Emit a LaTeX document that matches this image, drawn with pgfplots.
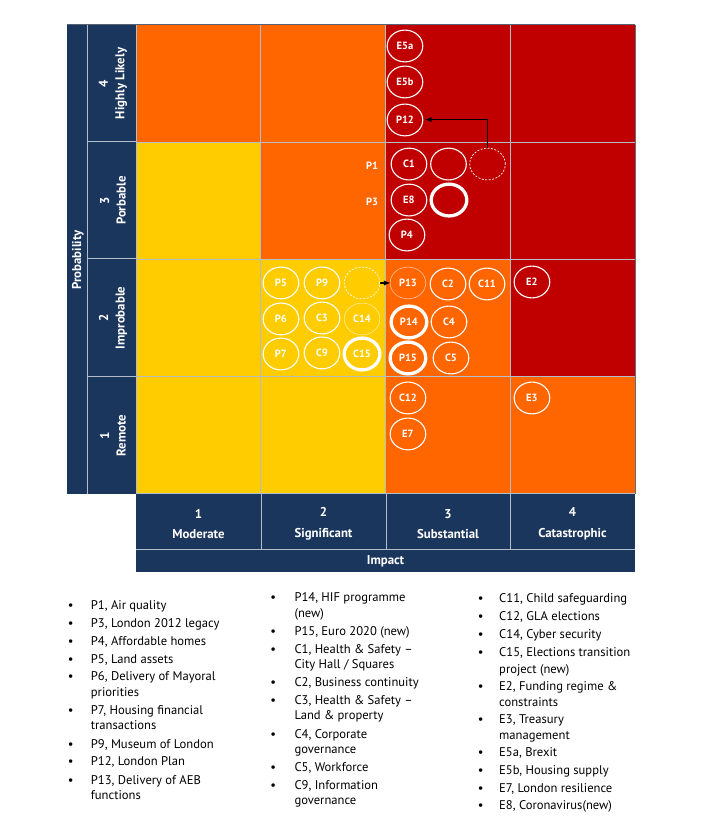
\documentclass[border=0pt]{standalone}
\usepackage{pgfplots}
\pgfplotsset{compat=1.18}
\usepackage{fontspec}
\setmainfont{PT Sans}
\definecolor{cOr}{HTML}{FF6600}
\definecolor{cYe}{HTML}{FFCC00}
\definecolor{cRe}{HTML}{C00000}
\definecolor{navy}{HTML}{1B365D}
\definecolor{gline}{HTML}{B4BECB}
\newcommand{\lgf}{\fontsize{12.6}{15}\selectfont}
\newcommand{\bdf}{\fontsize{12.8}{16.5}\selectfont\bfseries}
\newcommand{\lgi}[3]{\node[anchor=base west,inner sep=0pt,font=\lgf,text=black] at (#1,#2+4.5) {#3};}
\newcommand{\bul}[2]{\node[anchor=base,inner sep=0pt,font=\lgf,text=black] at (#1,#2+4.5) {\textbullet};}
\begin{document}
\begin{tikzpicture}
\path[use as bounding box] (0,0) rectangle (706pt,836pt);
\begin{scope}[x=1pt,y=-1pt,shift={(0pt,836pt)}]
  \fill[navy] (67,24.5) rectangle (136,494);
  \fill[navy] (136,494) rectangle (635,572);
\end{scope}

\begin{axis}[at={(136pt,342pt)}, anchor=south west, scale only axis,
  width=499pt, height=469pt, xmin=0, xmax=4, ymin=0, ymax=4,
  hide axis, clip=false]
  % cells: row 4
  \addplot[fill=cOr, draw=none] coordinates {(0,3) (1,3) (1,4) (0,4) (0,3)};
  \addplot[fill=cOr, draw=none] coordinates {(1,3) (2,3) (2,4) (1,4) (1,3)};
  \addplot[fill=cRe, draw=none] coordinates {(2,3) (3,3) (3,4) (2,4) (2,3)};
  \addplot[fill=cRe, draw=none] coordinates {(3,3) (4,3) (4,4) (3,4) (3,3)};
  % row 3
  \addplot[fill=cYe, draw=none] coordinates {(0,2) (1,2) (1,3) (0,3) (0,2)};
  \addplot[fill=cOr, draw=none] coordinates {(1,2) (2,2) (2,3) (1,3) (1,2)};
  \addplot[fill=cRe, draw=none] coordinates {(2,2) (3,2) (3,3) (2,3) (2,2)};
  \addplot[fill=cRe, draw=none] coordinates {(3,2) (4,2) (4,3) (3,3) (3,2)};
  % row 2
  \addplot[fill=cYe, draw=none] coordinates {(0,1) (1,1) (1,2) (0,2) (0,1)};
  \addplot[fill=cYe, draw=none] coordinates {(1,1) (2,1) (2,2) (1,2) (1,1)};
  \addplot[fill=cOr, draw=none] coordinates {(2,1) (3,1) (3,2) (2,2) (2,1)};
  \addplot[fill=cRe, draw=none] coordinates {(3,1) (4,1) (4,2) (3,2) (3,1)};
  % row 1
  \addplot[fill=cYe, draw=none] coordinates {(0,0) (1,0) (1,1) (0,1) (0,0)};
  \addplot[fill=cYe, draw=none] coordinates {(1,0) (2,0) (2,1) (1,1) (1,0)};
  \addplot[fill=cOr, draw=none] coordinates {(2,0) (3,0) (3,1) (2,1) (2,0)};
  \addplot[fill=cOr, draw=none] coordinates {(3,0) (4,0) (4,1) (3,1) (3,0)};
  % grid lines
  \addplot[gline, line width=1pt] coordinates {(1,0) (1,4)};
  \addplot[gline, line width=1pt] coordinates {(2,0) (2,4)};
  \addplot[gline, line width=1pt] coordinates {(3,0) (3,4)};
  \addplot[gline, line width=1pt] coordinates {(0,1) (4,1)};
  \addplot[gline, line width=1pt] coordinates {(0,2) (4,2)};
  \addplot[gline, line width=1pt] coordinates {(0,3) (4,3)};
  \addplot[gline, line width=1pt] coordinates {(0,0) (0,4)};
  \addplot[gline, line width=1pt] coordinates {(0,0) (4,0)};
  \addplot[gray!70!navy, line width=1pt] coordinates {(4,0) (4,4)};
  % labelled circles
  \addplot[only marks, mark=o, mark size=15.9pt,
    mark options={xscale=1.12, draw=white, line width=1.1pt},
    nodes near coords, point meta=explicit symbolic,
    nodes near coords style={anchor=center, text=white, font=\fontsize{10.5}{12}\selectfont\bfseries}]
    table[meta=l] {
x y l
2.156 3.821 E5a
2.156 3.514 E5b
2.156 3.190 P12
2.188 2.814 C1
2.188 2.507 E8
2.172 2.209 P4
1.162 1.800 P5
1.491 1.800 P9
1.162 1.493 P6
1.491 1.501 C3
1.162 1.194 P7
1.491 1.203 C9
2.501 1.791 C2
2.814 1.791 C11
2.509 1.467 C4
2.525 1.160 C5
3.174 1.808 E2
2.180 0.819 C12
2.180 0.512 E7
3.174 0.819 E3
};
  % faint circles
  \addplot[only marks, mark=o, mark size=15.9pt,
    mark options={xscale=1.12, draw=white, draw opacity=0.6, line width=0.6pt},
    nodes near coords, point meta=explicit symbolic,
    nodes near coords style={anchor=center, text=white, font=\fontsize{10.5}{12}\selectfont\bfseries}]
    table[meta=l] {
x y l
2.180 1.800 P13
1.812 1.493 C14
};
  % thick rings with labels
  \addplot[only marks, mark=o, mark size=15.9pt,
    mark options={xscale=1.12, draw=white, line width=3.3pt},
    nodes near coords, point meta=explicit symbolic,
    nodes near coords style={anchor=center, text=white, font=\fontsize{10.5}{12}\selectfont\bfseries}]
    table[meta=l] {
x y l
2.188 1.467 P14
2.180 1.160 P15
1.812 1.194 C15
};
  % empty thick ring
  \addplot[only marks, mark=o, mark size=15.9pt,
    mark options={xscale=1.12, draw=white, line width=3.3pt}]
    coordinates {(2.509,2.507)};
  % empty thin circle
  \addplot[only marks, mark=o, mark size=15.9pt,
    mark options={xscale=1.12, draw=white, line width=1.1pt}]
    coordinates {(2.505,2.814)};
  % dashed circles
  \addplot[only marks, mark=o, mark size=15.9pt,
    mark options={xscale=1.12, draw=white, line width=0.7pt, dash pattern=on 2pt off 1.5pt}]
    coordinates {(2.818,2.814) (1.812,1.800)};
  % plain labels P1, P3
  \addplot[only marks, mark=none, nodes near coords, point meta=explicit symbolic,
    nodes near coords style={anchor=center, text=white, font=\fontsize{10.5}{12}\selectfont\bfseries}]
    table[meta=l] {
x y l
1.892 2.797 P1
1.892 2.490 P3
};
  % arrows
  \addplot[black, line width=1.3pt, -latex] coordinates {(2.818,2.951) (2.818,3.193) (2.317,3.193)};
  \addplot[black, line width=1.3pt, -latex] coordinates {(1.956,1.800) (2.040,1.800)};
\end{axis}

\begin{scope}[x=1pt,y=-1pt,shift={(0pt,836pt)}]
  % bar separators
  \draw[gray!60!navy, line width=1pt] (67,24.5) -- (635,24.5);
  \draw[gline, line width=1pt] (87,25) -- (87,494);
  \draw[gline, line width=1pt] (87,142) -- (136,142);
  \draw[gline, line width=1pt] (87,259) -- (136,259);
  \draw[gline, line width=1pt] (87,377) -- (136,377);
  \draw[gline, line width=1pt] (136,25) -- (136,494);
  \draw[gline, line width=1pt] (136,550) -- (635,550);
  \draw[gline, line width=1pt] (261,494) -- (261,550);
  \draw[gline, line width=1pt] (386,494) -- (386,550);
  \draw[gline, line width=1pt] (510,494) -- (510,550);
  % row labels
  \node[rotate=90, align=center, text=white, font=\bdf] at (113,83.5) {4\\Highly Likely};
  \node[rotate=90, align=center, text=white, font=\bdf] at (113,200.5) {3\\Porbable};
  \node[rotate=90, align=center, text=white, font=\bdf] at (113,318) {2\\Improbable};
  \node[rotate=90, align=center, text=white, font=\bdf] at (113,435.5) {1\\Remote};
  \node[rotate=90, text=white, font=\bdf] at (78,260) {Probability};
  % column labels
  \node[align=center, text=white, font=\fontsize{12.8}{20.5}\selectfont\bfseries] at (198.5,524) {1\\Moderate};
  \node[align=center, text=white, font=\fontsize{12.8}{20.5}\selectfont\bfseries] at (323.5,524) {2\\Significant};
  \node[align=center, text=white, font=\fontsize{12.8}{20.5}\selectfont\bfseries] at (448,524) {3\\Substantial};
  \node[align=center, text=white, font=\fontsize{12.8}{20.5}\selectfont\bfseries] at (572.5,524) {4\\Catastrophic};
  \node[text=white, font=\bdf] at (385.5,561) {Impact};
  % legend column 1
  \bul{70.7}{605}\lgi{90.7}{605}{P1, Air quality}
  \bul{70.7}{622.7}\lgi{90.7}{622.7}{P3, London 2012 legacy}
  \bul{70.7}{640.7}\lgi{90.7}{640.7}{P4, Affordable homes}
  \bul{70.7}{658.7}\lgi{90.7}{658.7}{P5, Land assets}
  \bul{70.7}{676.3}\lgi{90.7}{676.3}{P6, Delivery of Mayoral}
  \lgi{90.7}{691.7}{priorities}
  \bul{70.7}{710}\lgi{90.7}{710}{P7, Housing financial}
  \lgi{90.7}{725.3}{transactions}
  \bul{70.7}{743.7}\lgi{90.7}{743.7}{P9, Museum of London}
  \bul{70.7}{761}\lgi{90.7}{761}{P12, London Plan}
  \bul{70.7}{779.7}\lgi{90.7}{779.7}{P13, Delivery of AEB}
  \lgi{90.7}{795}{functions}
  % legend column 2
  \bul{273.3}{597.3}\lgi{294.3}{597.3}{P14, HIF programme}
  \lgi{294.3}{612.7}{(new)}
  \bul{273.3}{631}\lgi{294.3}{631}{P15, Euro 2020 (new)}
  \bul{273.3}{648.7}\lgi{294.3}{648.7}{C1, Health \& Safety –}
  \lgi{294.3}{664}{City Hall / Squares}
  \bul{273.3}{682.3}\lgi{294.3}{682.3}{C2, Business continuity}
  \bul{273.3}{700}\lgi{294.3}{700}{C3, Health \& Safety –}
  \lgi{294.3}{715.3}{Land \& property}
  \bul{273.3}{733.7}\lgi{294.3}{733.7}{C4, Corporate}
  \lgi{294.3}{749}{governance}
  \bul{273.3}{767.3}\lgi{294.3}{767.3}{C5, Workforce}
  \bul{273.3}{785}\lgi{294.3}{785}{C9, Information}
  \lgi{294.3}{800.3}{governance}
  % legend column 3
  \bul{480.7}{598.3}\lgi{499}{598.3}{C11, Child safeguarding}
  \bul{480.7}{616}\lgi{499}{616}{C12, GLA elections}
  \bul{480.7}{634}\lgi{499}{634}{C14, Cyber security}
  \bul{480.7}{652}\lgi{499}{652}{C15, Elections transition}
  \lgi{499}{668.7}{project (new)}
  \bul{480.7}{686}\lgi{499}{686}{E2, Funding regime \&}
  \lgi{499}{701.7}{constraints}
  \bul{480.7}{719}\lgi{499}{719}{E3, Treasury}
  \lgi{499}{734.7}{management}
  \bul{480.7}{752}\lgi{499}{752}{E5a, Brexit}
  \bul{480.7}{770}\lgi{499}{770}{E5b, Housing supply}
  \bul{480.7}{787.7}\lgi{499}{787.7}{E7, London resilience}
  \bul{480.7}{805.3}\lgi{499}{805.3}{E8, Coronavirus(new)}
\end{scope}
\end{tikzpicture}
\end{document}
